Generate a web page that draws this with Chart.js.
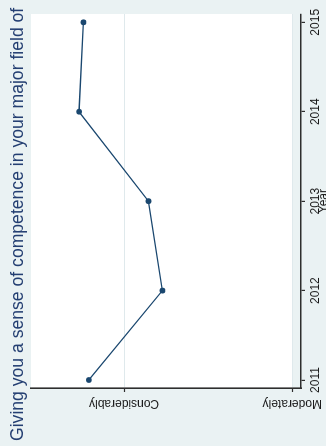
<!DOCTYPE html>
<html>
<head>
<meta charset="utf-8">
<script src="https://cdn.jsdelivr.net/npm/chart.js@4"></script>
<style>
  html, body { margin: 0; padding: 0; background: #eaf2f3; overflow: hidden; }
  body { width: 326px; height: 446px; position: relative; }
  /* The graph is laid out landscape and turned a quarter turn counter-clockwise */
  #wrap {
    position: absolute; left: 0; top: 0;
    width: 446px; height: 326px;
    transform-origin: 0 0;
    transform: translateY(446px) rotate(-90deg);
  }
  canvas { display: block; }
</style>
</head>
<body>
<div id="wrap"><canvas id="c" width="446" height="326"></canvas></div>
<script>
// Survey item, mean response by year
const chartTitle = "Giving you a sense of competence in your major field of";
const xTitle = "Year";
const years = [2011, 2012, 2013, 2014, 2015];
const meanScore = [3.21, 2.772, 2.855, 3.268, 3.242];
// Response scale codes shown on the value axis
const levelValues = [2, 3];
const levelLabels = ["Moderately", "Considerably"];

const FONT = "'Liberation Sans', Arial, Helvetica, sans-serif";
const NAVY = "#1a476f";
const AXIS = "#2e2e2e";
const BG = "#eaf2f3";

const framePlugin = {
  id: 'frame',
  beforeDraw(chart) {
    const { ctx, chartArea: a, scales } = chart;
    ctx.save();
    ctx.fillStyle = BG;
    ctx.fillRect(0, 0, chart.width, chart.height);
    // white plot region down to the lowest scale level
    const yLow = scales.y.getPixelForValue(levelValues[0]);
    ctx.fillStyle = "#ffffff";
    ctx.fillRect(a.left, a.top, a.right - a.left, yLow - a.top + 0.5);
    ctx.restore();
  },
  afterDraw(chart) {
    const { ctx, scales } = chart;
    ctx.save();
    // graph title
    ctx.fillStyle = "#243f72";
    ctx.font = "17.6px " + FONT;
    ctx.textAlign = "left";
    ctx.textBaseline = "alphabetic";
    ctx.fillText(chartTitle, 5, 23);
    // value-axis labels, set vertically
    ctx.fillStyle = "#1c1c1c";
    ctx.font = "12px " + FONT;
    ctx.textAlign = "center";
    levelValues.forEach((v, i) => {
      const py = scales.y.getPixelForValue(v);
      ctx.save();
      ctx.translate(46.3, py);
      ctx.rotate(-Math.PI / 2);
      ctx.fillText(levelLabels[i], 0, 0);
      ctx.restore();
    });
    // x-axis title
    ctx.textBaseline = "top";
    const xa = scales.x;
    ctx.fillText(xTitle, (xa.getPixelForValue(years[0]) + xa.getPixelForValue(years[years.length - 1])) / 2, 318);
    ctx.restore();
  }
};

new Chart(document.getElementById('c'), {
  type: 'line',
  data: {
    datasets: [{
      data: years.map((yr, i) => ({ x: yr, y: meanScore[i] })),
      borderColor: NAVY,
      backgroundColor: NAVY,
      borderWidth: 1.3,
      pointRadius: 2.9,
      pointBorderWidth: 0,
      pointBackgroundColor: NAVY,
      tension: 0,
      fill: false
    }]
  },
  options: {
    responsive: false,
    animation: false,
    devicePixelRatio: 1,
    layout: { padding: { top: 31, right: 14, left: 0, bottom: 0 } },
    plugins: {
      legend: { display: false },
      tooltip: { enabled: false },
      title: { display: false }
    },
    scales: {
      x: {
        type: 'linear',
        min: 2010.9106,
        max: 2015.0928,
        afterBuildTicks: s => { s.ticks = years.map(v => ({ value: v })); },
        ticks: {
          callback: v => String(v),
          font: { family: FONT, size: 12 },
          color: "#1c1c1c",
          padding: 3,
          maxRotation: 0,
          minRotation: 0,
          autoSkip: false
        },
        grid: { drawOnChartArea: false, drawTicks: true, tickLength: 4, color: AXIS, tickColor: AXIS, lineWidth: 1.2 },
        border: { display: true, color: AXIS, width: 1.6 },
        afterFit: s => { s.height = 25; s.paddingLeft = 0; s.paddingRight = 0; }
      },
      y: {
        type: 'linear',
        min: 1.948,
        max: 3.5536,
        afterBuildTicks: s => { s.ticks = levelValues.map(v => ({ value: v })); },
        ticks: { display: false },
        grid: { color: "#dfe9ec", lineWidth: 1, drawTicks: true, tickLength: 4, tickColor: AXIS, tickWidth: 1.2 },
        border: { display: true, color: AXIS, width: 1.6 },
        afterFit: s => { s.width = 58; s.paddingTop = 0; s.paddingBottom = 0; }
      }
    }
  },
  plugins: [framePlugin]
});
</script>
</body>
</html>
